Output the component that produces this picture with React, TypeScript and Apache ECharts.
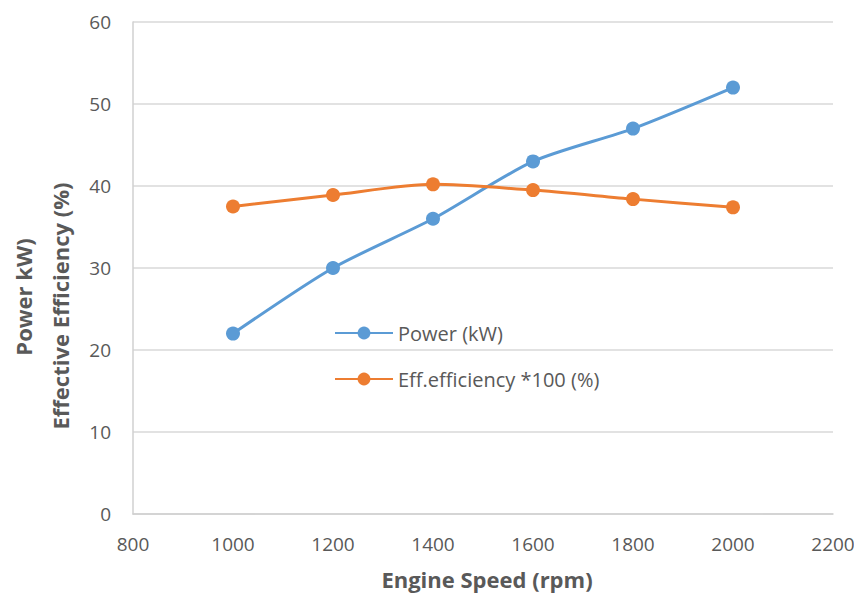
import React, { useEffect, useRef } from "react";
import * as echarts from "echarts";

const speeds = [1000, 1200, 1400, 1600, 1800, 2000];
const power = [22, 30, 36, 43, 47, 52];
const efficiency = [37.5, 38.9, 40.2, 39.5, 38.4, 37.4];
const yTitleLines = ["Power kW)", "Effective Efficiency (%)"];
const xTitle = "Engine Speed (rpm)";

export default function App() {
  const ref = useRef<HTMLDivElement>(null);
  useEffect(() => {
    const chart = echarts.init(ref.current!, null, { renderer: "svg" });
    const font = "'Open Sans', 'Noto Sans', sans-serif";
    const titleStyle = { fontWeight: "bold", fill: "#595959", fontFamily: font, align: "center", verticalAlign: "middle" };
    chart.setOption({
      animation: false,
      textStyle: { fontFamily: font },
      grid: { left: 125, right: 21, top: 14, bottom: 82, outerBoundsMode: "none", containLabel: false },
      legend: {
        orient: "vertical",
        left: 321,
        top: 310,
        itemGap: 26,
        itemWidth: 58,
        itemHeight: 16,
        textStyle: { fontSize: 20, color: "#595959", fontFamily: font },
        data: ["Power (kW)", "Eff.efficiency *100 (%)"],
      },
      graphic: [
        { type: "text", x: 15, y: 289, rotation: Math.PI / 2, style: { ...titleStyle, fontSize: 22, text: yTitleLines[0] } },
        { type: "text", x: 52, y: 298, rotation: Math.PI / 2, style: { ...titleStyle, fontSize: 22, text: yTitleLines[1] } },
        { type: "text", x: 479, y: 571, style: { ...titleStyle, fontSize: 22, lineHeight: 24, text: xTitle } },
      ],
      xAxis: {
        type: "value",
        min: 800,
        max: 2200,
        interval: 200,
        axisLine: { show: true, lineStyle: { color: "#d0d0d0", width: 1.5 } },
        axisTick: { show: false },
        axisLabel: { fontSize: 19, color: "#595959", margin: 20, fontFamily: font, formatter: (v: number) => String(v) },
        splitLine: { show: false },
      },
      yAxis: {
        type: "value",
        min: 0,
        max: 60,
        interval: 10,
        axisLine: { show: true, lineStyle: { color: "#d0d0d0", width: 1.5 } },
        axisTick: { show: false },
        axisLabel: { fontSize: 19, color: "#595959", margin: 22, fontFamily: font },
        splitLine: { show: true, lineStyle: { color: "#d9d9d9", width: 1.5 } },
      },
      series: [
        {
          name: "Power (kW)",
          type: "line",
          smooth: 0.25,
          data: speeds.map((s, i) => [s, power[i]]),
          symbol: "circle",
          symbolSize: 14,
          itemStyle: { color: "#5B9BD5" },
          lineStyle: { color: "#5B9BD5", width: 3 },
        },
        {
          name: "Eff.efficiency *100 (%)",
          type: "line",
          smooth: 0.25,
          data: speeds.map((s, i) => [s, efficiency[i]]),
          symbol: "circle",
          symbolSize: 14,
          itemStyle: { color: "#ED7D31" },
          lineStyle: { color: "#ED7D31", width: 3 },
        },
      ],
    });
    return () => chart.dispose();
  }, []);
  return <div ref={ref} style={{ width: 846, height: 588 }} />;
}
